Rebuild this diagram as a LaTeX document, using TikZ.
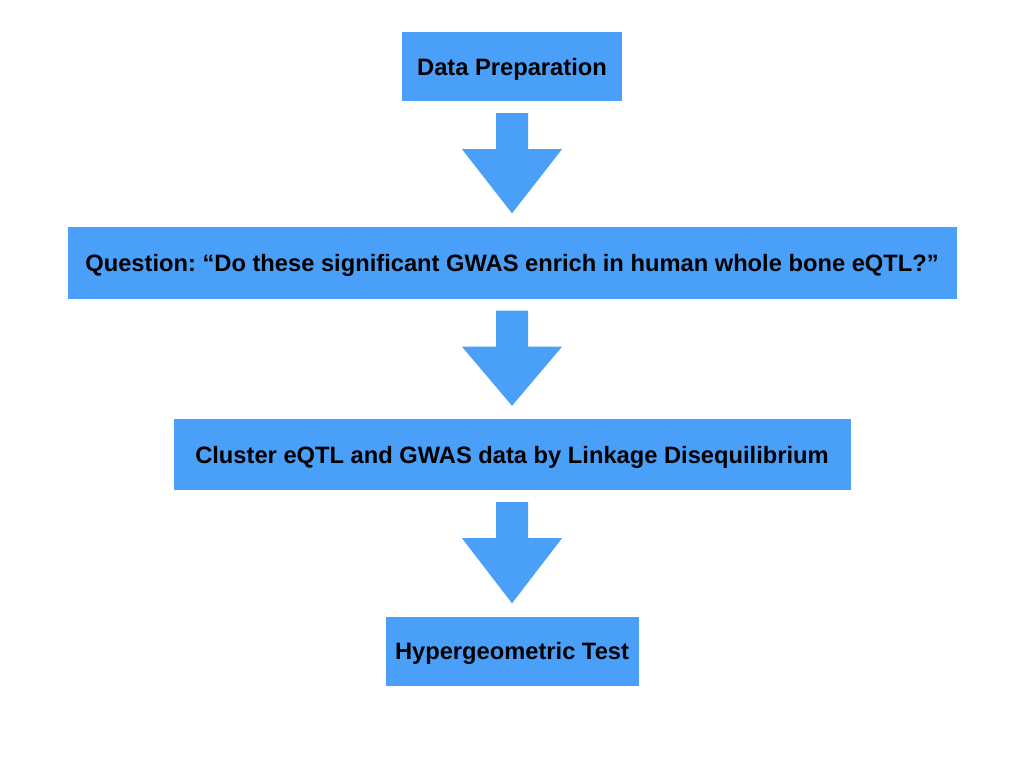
\documentclass[tikz,border=0pt]{standalone}
\usepackage{fontspec}
\setmainfont{Liberation Sans}
\usetikzlibrary{calc}
\definecolor{stepblue}{RGB}{74,160,249}
\frenchspacing

% block arrow from the bottom of one box down towards the next
\newcommand{\downarrowblock}[2]{%
    \fill[stepblue] ($(#1.south)+(-16,12)$) -- ($(#1.south)+(16,12)$)
        -- ($(#1.south)+(16,48)$) -- ($(#1.south)+(50,48)$)
        -- ($(#2.north)+(0,-13)$)
        -- ($(#1.south)+(-50,48)$) -- ($(#1.south)+(-16,48)$) -- cycle;
}

\begin{document}
\begin{tikzpicture}[x=1pt,y=-1pt,
    stepbox/.style={rectangle, fill=stepblue, inner sep=0pt, text depth=0pt,
    font=\fontsize{23.7}{28}\selectfont\bfseries}]
    \useasboundingbox (0,0) rectangle (1024,768);
    \tikzstyle{every node}=[stepbox]
    \node[minimum width=220pt, minimum height=69pt] (prep) at (512,66.5) {Data Preparation};
    \node[minimum width=889pt, minimum height=72pt] (question) at (512,262.5)
        {Question: “Do these significant GWAS enrich in human whole bone eQTL?”};
    \node[minimum width=677pt, minimum height=71pt] (cluster) at (512,454.5)
        {Cluster eQTL and GWAS data by Linkage Disequilibrium};
    \node[minimum width=253pt, minimum height=69pt] (hyper) at (512,651) {Hypergeometric Test};
    \downarrowblock{prep}{question}
    \downarrowblock{question}{cluster}
    \downarrowblock{cluster}{hyper}
\end{tikzpicture}
\end{document}
